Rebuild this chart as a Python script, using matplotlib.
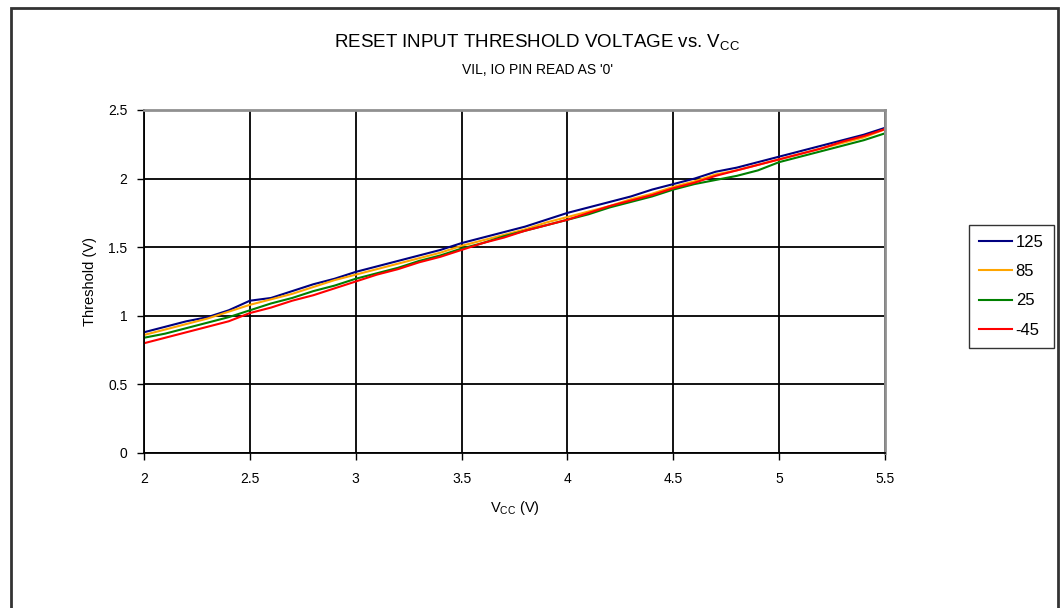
import numpy as np
import matplotlib
matplotlib.use('Agg')
import matplotlib.pyplot as plt
from matplotlib.patches import Rectangle

plt.rcParams['font.family'] = ['Liberation Sans', 'DejaVu Sans']
plt.rcParams['mathtext.fontset'] = 'custom'
plt.rcParams['mathtext.rm'] = 'Liberation Sans'
plt.rcParams['mathtext.it'] = 'Liberation Sans'

# Supply voltage (V)
vcc = [2.0, 2.1, 2.2, 2.3, 2.4, 2.5, 2.6, 2.7, 2.8, 2.9, 3.0, 3.1, 3.2, 3.3, 3.4, 3.5, 3.6, 3.7,
       3.8, 3.9, 4.0, 4.1, 4.2, 4.3, 4.4, 4.5, 4.6, 4.7, 4.8, 4.9, 5.0, 5.1, 5.2, 5.3, 5.4, 5.5]

# Threshold (V) per temperature
t125 = [0.88, 0.92, 0.96, 0.99, 1.04, 1.11, 1.13, 1.18, 1.23, 1.27, 1.32, 1.36, 1.40, 1.44, 1.48, 1.53, 1.57, 1.61,
        1.65, 1.70, 1.75, 1.79, 1.83, 1.87, 1.92, 1.96, 2.00, 2.05, 2.08, 2.12, 2.16, 2.20, 2.24, 2.28, 2.32, 2.37]
t85 = [0.86, 0.90, 0.94, 0.98, 1.03, 1.08, 1.12, 1.16, 1.21, 1.26, 1.30, 1.34, 1.38, 1.42, 1.46, 1.51, 1.55, 1.59,
       1.63, 1.68, 1.72, 1.76, 1.80, 1.85, 1.89, 1.94, 1.98, 2.03, 2.06, 2.10, 2.14, 2.18, 2.22, 2.26, 2.30, 2.36]
t25 = [0.84, 0.87, 0.91, 0.95, 0.99, 1.04, 1.09, 1.13, 1.18, 1.22, 1.27, 1.31, 1.35, 1.40, 1.44, 1.49, 1.53, 1.58,
       1.62, 1.66, 1.70, 1.74, 1.79, 1.83, 1.87, 1.92, 1.96, 1.99, 2.02, 2.06, 2.12, 2.16, 2.20, 2.24, 2.28, 2.33]
tm45 = [0.80, 0.84, 0.88, 0.92, 0.96, 1.02, 1.06, 1.11, 1.15, 1.20, 1.25, 1.30, 1.34, 1.39, 1.43, 1.48, 1.53, 1.57,
        1.62, 1.66, 1.70, 1.75, 1.80, 1.84, 1.88, 1.93, 1.97, 2.02, 2.06, 2.10, 2.14, 2.18, 2.22, 2.27, 2.31, 2.36]

series = [('125', t125, '#000080'), ('85', t85, '#FFA500'), ('25', t25, '#008000'), ('-45', tm45, '#FF0000')]

fig = plt.figure(figsize=(10.64, 6.08), dpi=100)
ax = fig.add_axes([144 / 1064, 1 - 453 / 608, (885 - 144) / 1064, (453 - 110) / 608])

for name, vals, col in series:
    ax.plot(vcc, vals, color=col, lw=1.5, label=name)

ax.set_xlim(2, 5.5)
ax.set_ylim(0, 2.5)
ax.set_xticks([2, 2.5, 3, 3.5, 4, 4.5, 5, 5.5])
ax.set_xticklabels(['2', '2.5', '3', '3.5', '4', '4.5', '5', '5.5'])
ax.set_yticks([0, 0.5, 1, 1.5, 2, 2.5])
ax.set_yticklabels(['0', '0.5', '1', '1.5', '2', '2.5'])
ax.grid(True, color='black', lw=1.3)
ax.tick_params(labelsize=10, length=5, width=1, direction='out', pad=7)
ax.tick_params(axis='x', pad=9)
ax.spines['top'].set_color('#909090')
ax.spines['right'].set_color('#909090')
ax.spines['top'].set_linewidth(2)
ax.spines['right'].set_linewidth(2)
ax.spines['left'].set_linewidth(1.3)
ax.spines['bottom'].set_linewidth(1.3)

ax.set_ylabel('Threshold (V)', fontsize=10.5, labelpad=8)
ax.set_xlabel('V$_{\\mathrm{CC}}$ (V)', fontsize=10.5, labelpad=9)

fig.text(537 / 1064, 1 - 42 / 608, 'RESET INPUT THRESHOLD VOLTAGE vs. V$_{\\mathrm{CC}}$',
         ha='center', va='center', fontsize=13.5)
fig.text(537 / 1064, 1 - 70 / 608, "VIL, IO PIN READ AS '0'", ha='center', va='center', fontsize=10)

leg = ax.legend(loc='upper left', bbox_to_anchor=(969 / 1064, 1 - 225 / 608), bbox_transform=fig.transFigure,
                frameon=True, fancybox=False, fontsize=12, handlelength=2.0, handletextpad=0.2,
                labelspacing=0.85, borderpad=0.6, borderaxespad=0)
leg.get_frame().set_edgecolor('black')
leg.get_frame().set_linewidth(1)

# outer chart border
fig.patches.append(Rectangle((11 / 1064, -0.05), (1058 - 11) / 1064, 1.05 - 8 / 608,
                             transform=fig.transFigure, fill=False, edgecolor='#333333', lw=2))

fig.savefig('out.png', dpi=100)
